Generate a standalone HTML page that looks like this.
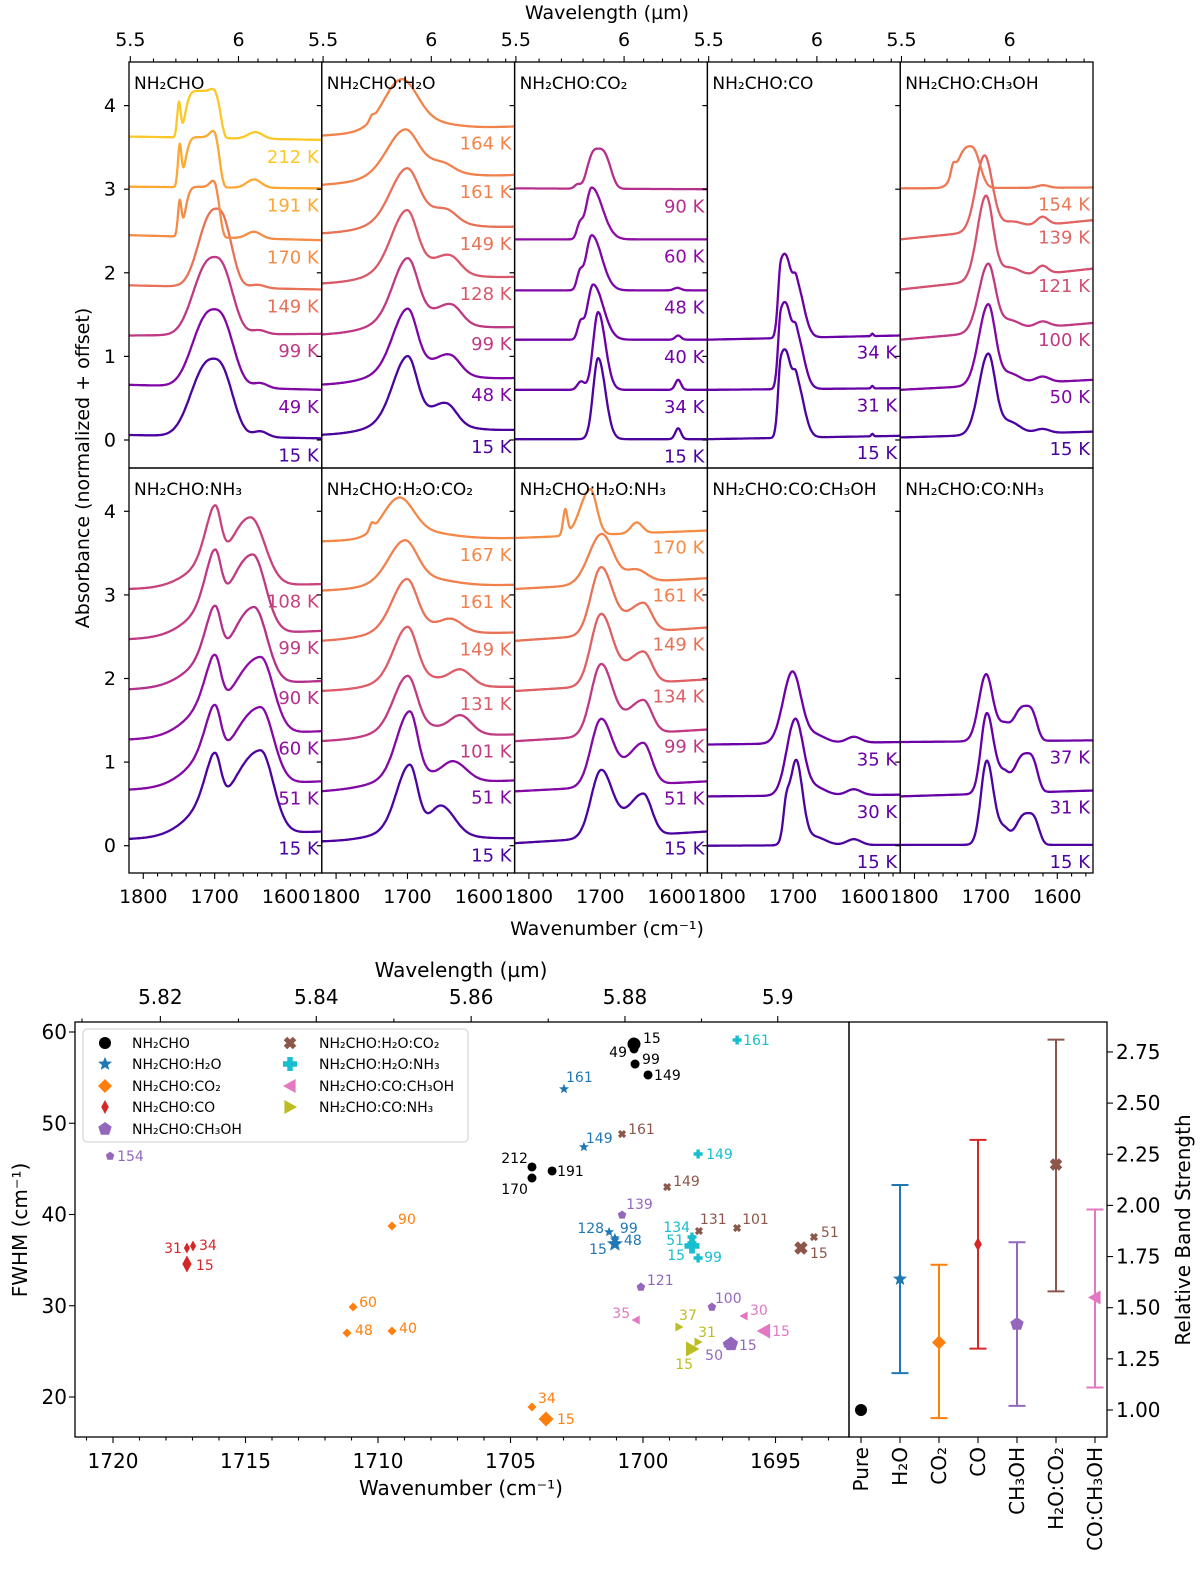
<!DOCTYPE html>
<html><head><meta charset="utf-8">
<style>
html,body{margin:0;padding:0;background:#fff;}
svg{display:block;font-family:"DejaVu Sans","Liberation Sans",sans-serif;}
</style></head>
<body>
<svg id="fig" width="1200" height="1570" viewBox="0 0 1200 1570" xmlns="http://www.w3.org/2000/svg">
<g id="topgrid"></g>
<g id="botchart"></g>
<g id="relchart"></g>
</svg>
<script>
// ===== Spectra data: per panel titles, temperatures, baselines [at 1820, at 1550], bands [center, height, sigmaHigh, sigmaLow, power]
const p1Title = "NH₂CHO";
const p1Temps = [15,49,99,149,170,191,212];
const p1Base = [[0.06,0.02],[0.66,0.60],[1.25,1.27],[1.85,1.80],[2.45,2.39],[3.03,3.01],[3.63,3.59]];
const p1Bands = [
 [[1701,0.93,30,24,2.5],[1636,0.07,10,10,2]],
 [[1700,0.93,29,24,2.5],[1636,0.06,10,10,2]],
 [[1700,0.93,28,23,2.5],[1638,0.05,10,10,2]],
 [[1697,0.94,24,19,2.5],[1640,0.04,10,10,2]],
 [[1716,0.6,24,22,6],[1700,0.1,6,4,2],[1749,0.42,2.5,2.5,2],[1645,0.08,10,10,2]],
 [[1716,0.6,24,22,6],[1700,0.1,6,4,2],[1749,0.5,2.5,2.5,2],[1645,0.1,10,10,2]],
 [[1716,0.56,24,23,6],[1700,0.04,6,4,2],[1750,0.42,2.5,2.5,2],[1643,0.08,10,10,2]]];
const p2Title = "NH₂CHO:H₂O";
const p2Temps = [15,48,99,128,149,161,164];
const p2Base = [[0.06,0.12],[0.66,0.74],[1.26,1.35],[1.87,1.95],[2.47,2.55],[3.05,3.17],[3.64,3.75]];
const p2Bands = [
 [[1700,0.72,20,13,2],[1690,0.2,45,45,2],[1645,0.22,18,14,2]],
 [[1700,0.68,20,13,2],[1690,0.2,45,45,2],[1640,0.2,18,14,2]],
 [[1700,0.68,20,14,2],[1690,0.2,45,45,2],[1638,0.2,18,14,2]],
 [[1701,0.65,21,14,2],[1690,0.2,45,45,2],[1640,0.18,18,14,2]],
 [[1701,0.55,22,16,2],[1690,0.2,45,45,2],[1645,0.12,18,14,2]],
 [[1704,0.45,24,18,2],[1690,0.17,45,45,2],[1650,0.08,18,14,2]],
 [[1709,0.52,24,22,2],[1690,0.12,45,45,2],[1750,0.05,3,3,2]]];
const p3Title = "NH₂CHO:CO₂";
const p3Temps = [15,34,40,48,60,90];
const p3Base = [[0.01,0.01],[0.6,0.6],[1.2,1.2],[1.79,1.79],[2.40,2.40],[3.01,3.0]];
const p3Bands = [
 [[1703,0.97,7,10,2],[1591,0.13,4,4,2]],
 [[1703,0.93,7,10,2],[1727,0.1,5,5,2],[1591,0.12,4,4,2]],
 [[1710,0.66,8,14,2],[1728,0.18,4,4,2],[1591,0.05,4,4,2]],
 [[1712,0.66,8,14,2],[1729,0.18,4,4,2],[1592,0.03,5,5,2]],
 [[1712,0.62,8,15,2],[1729,0.15,4,4,2]],
 [[1703,0.48,14,16,3],[1732,0.05,4,4,2]]];
const p4Title = "NH₂CHO:CO";
const p4Temps = [15,31,34];
const p4Base = [[0.01,0.05],[0.6,0.62],[1.2,1.25]];
const p4Bands = [
 [[1717,0.88,4,8,2],[1706,0.55,6,6,2],[1695,0.65,5,10,2],[1589,0.03,1.5,1.5,2]],
 [[1717,0.86,4,8,2],[1706,0.55,6,6,2],[1695,0.63,5,10,2],[1589,0.03,1.5,1.5,2]],
 [[1717,0.84,4,8,2],[1706,0.52,6,6,2],[1695,0.62,5,10,2],[1589,0.03,1.5,1.5,2]]];
const p5Title = "NH₂CHO:CH₃OH";
const p5Temps = [15,50,100,121,139,154];
const p5Base = [[0.03,0.10],[0.6,0.72],[1.2,1.40],[1.8,2.05],[2.40,2.63],[3.01,3.02]];
const p5Bands = [
 [[1697,0.95,13,10,2],[1668,0.15,15,15,2],[1621,0.05,10,10,2]],
 [[1697,0.95,13,10,2],[1668,0.13,15,15,2],[1621,0.07,10,10,2]],
 [[1697,0.8,13,10,2],[1668,0.12,15,15,2],[1621,0.07,10,10,2]],
 [[1700,1.0,12,10,2],[1668,0.12,15,15,2],[1621,0.1,8,8,2]],
 [[1702,0.9,12,11,2],[1665,0.08,15,15,2],[1621,0.1,8,8,2]],
 [[1722,0.5,18,13,2.5],[1746,0.12,3,3,2],[1620,0.03,8,8,2]]];
const p6Title = "NH₂CHO:NH₃";
const p6Temps = [15,51,60,90,99,108];
const p6Base = [[0.08,0.17],[0.67,0.77],[1.27,1.37],[1.87,1.97],[2.47,2.57],[3.07,3.13]];
const p6Bands = [
 [[1699,0.45,14,8,2],[1705,0.3,35,10,2],[1636,1.0,40,18,2]],
 [[1699,0.45,14,8,2],[1705,0.3,35,10,2],[1636,0.92,40,18,2]],
 [[1699,0.45,14,8,2],[1705,0.3,35,10,2],[1636,0.92,40,18,2]],
 [[1699,0.48,14,8,2],[1705,0.28,35,10,2],[1645,0.92,33,18,2]],
 [[1699,0.52,14,8,2],[1705,0.28,35,10,2],[1647,0.95,33,18,2]],
 [[1699,0.55,14,8,2],[1705,0.25,35,10,2],[1650,0.82,30,20,2]]];
const p7Title = "NH₂CHO:H₂O:CO₂";
const p7Temps = [15,51,101,131,149,161,167];
const p7Base = [[0.05,0.09],[0.65,0.78],[1.25,1.33],[1.85,1.9],[2.45,2.55],[3.05,3.12],[3.64,3.68]];
const p7Bands = [
 [[1697,0.75,18,11,2],[1690,0.15,45,45,2],[1652,0.3,15,18,2]],
 [[1697,0.75,18,11,2],[1690,0.15,45,45,2],[1635,0.2,15,18,2]],
 [[1700,0.6,19,13,2],[1690,0.15,45,45,2],[1625,0.2,15,15,2]],
 [[1700,0.6,19,13,2],[1690,0.15,45,45,2],[1625,0.17,15,15,2]],
 [[1701,0.55,20,14,2],[1690,0.15,45,45,2],[1638,0.12,15,15,2]],
 [[1704,0.45,22,17,2],[1690,0.13,45,45,2]],
 [[1712,0.42,22,20,2],[1690,0.1,45,45,2],[1750,0.08,3,3,2]]];
const p8Title = "NH₂CHO:H₂O:NH₃";
const p8Temps = [15,51,99,134,149,161,170];
const p8Base = [[0.03,0.17],[0.65,0.77],[1.25,1.39],[1.85,1.99],[2.45,2.61],[3.07,3.2],[3.68,3.77]];
const p8Bands = [
 [[1699,0.8,14,16,2],[1640,0.5,22,12,2]],
 [[1699,0.8,14,16,2],[1640,0.5,22,12,2]],
 [[1699,0.85,14,16,2],[1640,0.4,22,12,2]],
 [[1699,0.85,14,16,2],[1640,0.38,22,12,2]],
 [[1699,0.8,14,16,2],[1640,0.35,22,12,2]],
 [[1698,0.6,18,16,2],[1650,0.15,15,15,2]],
 [[1714,0.55,14,9,2],[1749,0.3,3,3,2],[1649,0.13,8,8,2]]];
const p9Title = "NH₂CHO:CO:CH₃OH";
const p9Temps = [15,30,35];
const p9Base = [[0.0,0.01],[0.59,0.61],[1.21,1.24]];
const p9Bands = [
 [[1696,1.0,9,9,2],[1710,0.3,4,4,2],[1670,0.1,15,15,2],[1615,0.07,10,10,2]],
 [[1697,0.9,12,11,2],[1670,0.1,15,15,2],[1615,0.07,10,10,2]],
 [[1701,0.85,13,12,2],[1670,0.1,15,15,2],[1615,0.07,10,10,2]]];
const p10Title = "NH₂CHO:CO:NH₃";
const p10Temps = [15,31,37];
const p10Base = [[0.01,0.01],[0.59,0.66],[1.24,1.26]];
const p10Bands = [
 [[1699,0.98,8,9,2],[1675,0.2,12,8,2],[1640,0.38,17,13,3]],
 [[1699,0.93,8,9,2],[1675,0.25,12,8,2],[1642,0.47,17,13,3]],
 [[1700,0.78,10,9,2],[1675,0.2,12,8,2],[1643,0.42,17,13,3]]];

// ===== Scatter data (FWHM vs peak position)
const seriesNames = ["NH₂CHO","NH₂CHO:H₂O","NH₂CHO:CO₂","NH₂CHO:CO","NH₂CHO:CH₃OH","NH₂CHO:H₂O:CO₂","NH₂CHO:H₂O:NH₃","NH₂CHO:CO:CH₃OH","NH₂CHO:CO:NH₃"];
const pureTemps = [15,49,99,149,170,191,212];
const pureWn = [1700.34,1700.34,1700.30,1699.81,1704.19,1703.43,1704.19];
const pureFwhm = [58.68,58.14,56.49,55.29,44.0,44.77,45.21];
const h2oTemps = [15,48,99,128,149,161];
const h2oWn = [1701.06,1701.06,1701.06,1701.28,1702.23,1702.98];
const h2oFwhm = [36.77,37.2,37.42,38.08,47.40,53.75];
const co2Temps = [15,34,40,48,60,90];
const co2Wn = [1703.66,1704.19,1709.47,1711.17,1710.94,1709.47];
const co2Fwhm = [17.59,18.90,27.23,27.01,29.86,38.74];
const coTemps = [15,31,34];
const coWn = [1717.21,1717.21,1716.98];
const coFwhm = [34.58,36.33,36.55];
const meohTemps = [15,50,100,121,139,154];
const meohWn = [1696.68,1696.83,1697.40,1700.08,1700.79,1720.11];
const meohFwhm = [25.81,25.81,29.86,32.05,39.95,46.4];
const h2oco2Temps = [15,51,101,131,149,161];
const h2oco2Wn = [1694.04,1693.55,1696.45,1697.89,1699.09,1700.79];
const h2oco2Fwhm = [36.33,37.53,38.52,38.19,43.01,48.82];
const h2onh3Temps = [15,51,99,134,149,161];
const h2onh3Wn = [1698.15,1698.15,1697.92,1698.15,1697.92,1696.45];
const h2onh3Fwhm = [36.55,36.88,35.23,37.53,46.63,59.12];
const comeohTemps = [15,30,35];
const comeohWn = [1695.43,1696.19,1700.26];
const comeohFwhm = [27.23,28.88,28.44];
const conh3Temps = [15,31,37];
const conh3Wn = [1698.15,1697.92,1698.64];
const conh3Fwhm = [25.26,26.03,27.67];

// ===== Relative band strength data
const relCats = ["Pure","H₂O","CO₂","CO","CH₃OH","H₂O:CO₂","CO:CH₃OH"];
const relVals = [1.00,1.64,1.33,1.81,1.42,2.20,1.55];
const relLow = [1.00,1.18,0.96,1.30,1.02,1.58,1.11];
const relHigh = [1.00,2.10,1.71,2.32,1.82,2.81,1.98];
const relTicks = [1.00,1.25,1.50,1.75,2.00,2.25,2.50,2.75];

// ===== tick arrays
const specWnTicks = [1800,1700,1600];
const specWlTicks = [5.5,6];
const specYTicks = [0,1,2,3,4];
const fwhmXTicks = [1720,1715,1710,1705,1700,1695];
const fwhmYTicks = [20,30,40,50,60];
const fwhmWlTicks = [5.82,5.84,5.86,5.88,5.9];

// ---------- helpers (presentation) ----------
const NS = "http://www.w3.org/2000/svg";
function mk(tag, attrs, parent){const e=document.createElementNS(NS,tag);for(const k in attrs)e.setAttribute(k,attrs[k]);if(parent)parent.appendChild(e);return e;}
function txt(parent,x,y,s,size,color,anchor,extra){const t=mk('text',{x:x,y:y,'font-size':size,fill:color||'#000','text-anchor':anchor||'start'},parent);if(extra)for(const k in extra)t.setAttribute(k,extra[k]);t.textContent=s;return t;}
const plasmaStops=['#0d0887','#41049d','#6a00a8','#8f0da4','#b12a90','#cc4778','#e16462','#f2844b','#fca636','#fcce25','#f0f921'];
function hx(c){return [parseInt(c.substr(1,2),16),parseInt(c.substr(3,2),16),parseInt(c.substr(5,2),16)];}
function tempColor(T){let t=Math.min(0.07+T/260,1);const f=t*10,i=Math.min(Math.floor(f),9),r=f-i;const a=hx(plasmaStops[i]),b=hx(plasmaStops[i+1]);return 'rgb('+a.map((v,k)=>Math.round(v+(b[k]-v)*r)).join(',')+')';}
function band(wn,pk){const c=pk[0],h=pk[1],sH=pk[2],sL=pk[3],p=pk[4]||2;const d=wn-c;const s=d>0?sH:sL;return h*Math.exp(-0.5*Math.pow(Math.abs(d/s),p));}
function specVal(wn,base,bands){let v=base[0]+(base[1]-base[0])*(1820-wn)/270;for(const b of bands)v+=band(wn,b);return v;}

// ---------- Spectra grid ----------
const topG=document.getElementById('topgrid');
const colL=[129,321.8,514.6,707.4,900.2], colW=192.8;
const rowTop=[62,468], rowZero=[440,845.7], rowBot=[468,873], yScale=83.6;
const WN0=1820, WN1=1550;
function sx(L,wn){return L+(WN0-wn)*colW/(WN0-WN1);}
const panels=[
 [p1Title,p1Temps,p1Base,p1Bands],[p2Title,p2Temps,p2Base,p2Bands],[p3Title,p3Temps,p3Base,p3Bands],[p4Title,p4Temps,p4Base,p4Bands],[p5Title,p5Temps,p5Base,p5Bands],
 [p6Title,p6Temps,p6Base,p6Bands],[p7Title,p7Temps,p7Base,p7Bands],[p8Title,p8Temps,p8Base,p8Bands],[p9Title,p9Temps,p9Base,p9Bands],[p10Title,p10Temps,p10Base,p10Bands]];
panels.forEach((pd,idx)=>{
  const r=Math.floor(idx/5), c=idx%5, L=colL[c];
  const y0=rowZero[r];
  const sy=v=>y0-v*yScale;
  const g=mk('g',{},topG);
  
  
  const clip=mk('clipPath',{id:'cp'+idx},g);
  mk('rect',{x:L,y:rowTop[r],width:colW,height:rowBot[r]-rowTop[r]},clip);
  const cg=mk('g',{'clip-path':'url(#cp'+idx+')'},g);
  pd[1].forEach((T,k)=>{
    let d='';
    for(let wn=WN0;wn>=WN1;wn-=1){const v=specVal(wn,pd[2][k],pd[3][k]);d+=(wn===WN0?'M':'L')+sx(L,wn).toFixed(1)+','+sy(v).toFixed(1);}
    const p=mk('path',{d:d,fill:'none',stroke:tempColor(T),'stroke-width':2.3,'stroke-linejoin':'round'},cg);
    
    
    const vr=specVal(WN1,pd[2][k],pd[3][k])-0.2;
    const lt=txt(g,L+colW-3,sy(vr)+6.5,T+' K',18,tempColor(T),'end');
    
    
  });
  mk('rect',{x:L,y:rowTop[r],width:colW,height:rowBot[r]-rowTop[r],fill:'none',stroke:'#000','stroke-width':1.3},g);
  const tt=txt(g,L+5,rowTop[r]+27,pd[0],17,'#000');
  
  
  specYTicks.forEach(v=>{mk('line',{x1:L-5,x2:L,y1:sy(v),y2:sy(v),stroke:'#000','stroke-width':1.2},g);
    if(c===0){const yl=txt(g,116,sy(v)+6.5,String(v),19,'#000','end');}});
  if(r===1){
    for(let w=1800;w>=1560;w-=20){const x=sx(L,w);const maj=specWnTicks.includes(w);mk('line',{x1:x,x2:x,y1:873,y2:873+(maj?6:3.5),stroke:'#000','stroke-width':1.1},g);}
    specWnTicks.forEach(w=>{const xl=txt(g,sx(L,w),903,String(w),19,'#000','middle');});
  } else {
    for(let i=0;i<10;i++){const wl=5.5+i*0.1;const w=1e4/wl;const x=sx(L,w);const maj=(i===0||i===5);mk('line',{x1:x,x2:x,y1:62,y2:62-(maj?6:3.5),stroke:'#000','stroke-width':1.1},g);}
    specWlTicks.forEach(wl=>{const wt=txt(g,sx(L,1e4/wl),46,String(wl),19,'#000','middle');});
  }
});
let t1=txt(topG,607,19,'Wavelength (µm)',19,'#000','middle');
let t2=txt(topG,607,935,'Wavenumber (cm⁻¹)',19,'#000','middle');
let t3=txt(topG,0,0,'Absorbance (normalized + offset)',19,'#000','middle',{transform:'translate(89,468) rotate(-90)'});

// ---------- marker drawing ----------
function marker(parent,type,cx,cy,s,color){
  const r=s/2;let pts=[];
  if(type==='o'){return mk('circle',{cx:cx,cy:cy,r:r,fill:color},parent);}
  if(type==='*'){for(let i=0;i<10;i++){const a=-Math.PI/2+i*Math.PI/5;const rr=i%2?r*0.45:r*1.05;pts.push([cx+rr*Math.cos(a),cy+rr*Math.sin(a)]);}}
  if(type==='D'){pts=[[cx,cy-r],[cx+r,cy],[cx,cy+r],[cx-r,cy]];}
  if(type==='d'){pts=[[cx,cy-r],[cx+r*0.55,cy],[cx,cy+r],[cx-r*0.55,cy]];}
  if(type==='p'){for(let i=0;i<5;i++){const a=-Math.PI/2+i*2*Math.PI/5;pts.push([cx+r*Math.cos(a),cy+r*Math.sin(a)]);}}
  if(type==='X'){const a=r*0.55,b=r;pts=[[-b,-b+a],[-b+a,-b],[0,-a],[b-a,-b],[b,-b+a],[a,0],[b,b-a],[b-a,b],[0,a],[-b+a,b],[-b,b-a],[-a,0]].map(p=>[cx+p[0]*0.9,cy+p[1]*0.9]);}
  if(type==='P'){const a=r*0.38;pts=[[-a,-r],[a,-r],[a,-a],[r,-a],[r,a],[a,a],[a,r],[-a,r],[-a,a],[-r,a],[-r,-a],[-a,-a]].map(p=>[cx+p[0],cy+p[1]]);}
  if(type==='<'){pts=[[cx-r,cy],[cx+r*0.8,cy-r],[cx+r*0.8,cy+r]];}
  if(type==='>'){pts=[[cx+r,cy],[cx-r*0.8,cy-r],[cx-r*0.8,cy+r]];}
  return mk('polygon',{points:pts.map(p=>p[0].toFixed(1)+','+p[1].toFixed(1)).join(' '),fill:color},parent);
}

// ---------- FWHM scatter ----------
const botG=document.getElementById('botchart');
const AX={l:75,r:849,t:1022,b:1437};
const fx=w=>643+(1700-w)*26.5;
const fy=f=>1397-(f-20)*9.125;
const sColors=['#000000','#1f77b4','#ff7f0e','#d62728','#9467bd','#8c564b','#17becf','#e377c2','#bcbd22'];
const sMarkers=['o','*','D','d','p','X','P','<','>'];
const sTemps=[pureTemps,h2oTemps,co2Temps,coTemps,meohTemps,h2oco2Temps,h2onh3Temps,comeohTemps,conh3Temps];
const sWn=[pureWn,h2oWn,co2Wn,coWn,meohWn,h2oco2Wn,h2onh3Wn,comeohWn,conh3Wn];
const sFw=[pureFwhm,h2oFwhm,co2Fwhm,coFwhm,meohFwhm,h2oco2Fwhm,h2onh3Fwhm,comeohFwhm,conh3Fwhm];
const lblOff=[
 [[9,-1,0],[-7,8,1],[7,0,0],[6,5,0],[-4,16,1],[5,5,0],[-4,-4,1]],
 [[-8,10,1],[9,5,0],[5,-5,0],[-5,1,1],[2,-4,0],[2,-7,0]],
 [[11,5,0],[6,-4,0],[7,2,0],[8,2,0],[6,0,0],[6,-2,0]],
 [[9,6,0],[-5,5,1],[6,4,0]],
 [[8,6,0],[-4,16,1],[3,-4,0],[6,-2,0],[4,-6,0],[7,5,0]],
 [[9,10,0],[7,0,0],[5,-4,0],[1,-7,0],[6,-1,0],[6,0,0]],
 [[-7,14,1],[-8,2,1],[6,4,0],[-2,-5,1],[8,5,0],[6,5,0]],
 [[8,5,0],[6,-1,0],[-6,-2,1]],
 [[1,20,1],[0,-5,0],[0,-7,0]]];
const bigSize=[13,16,15,17,15,15,15,15,15], smallSize=[9,10,9,11,9,9,9,9,9];
sTemps.forEach((temps,si)=>{
  const g=mk('g',{},botG);
  
  
  temps.forEach((T,k)=>{
    const x=fx(sWn[si][k]),y=fy(sFw[si][k]);
    const m=marker(g,sMarkers[si],x,y,T===15?bigSize[si]:smallSize[si],sColors[si]);
    
    
    const o=lblOff[si][k];
    const lt=txt(g,x+o[0],y+o[1],String(T),14,sColors[si],o[2]?'end':'start');
    
    
  });
});
mk('rect',{x:AX.l,y:AX.t,width:AX.r-AX.l,height:AX.b-AX.t,fill:'none',stroke:'#000','stroke-width':1.3},botG);
for(let w=1721;w>=1693;w--){const x=fx(w);if(x<AX.l||x>AX.r)continue;const maj=fwhmXTicks.includes(w);mk('line',{x1:x,x2:x,y1:AX.b,y2:AX.b+(maj?6:3.5),stroke:'#000','stroke-width':1.1},botG);}
fwhmXTicks.forEach(w=>{const l=txt(botG,fx(w),1468,String(w),20,'#000','middle');});
fwhmYTicks.forEach(f=>{mk('line',{x1:AX.l-6,x2:AX.l,y1:fy(f),y2:fy(f),stroke:'#000','stroke-width':1.1},botG);const l=txt(botG,67,fy(f)+7,String(f),20,'#000','end');});
for(let i=0;i<=10;i++){const wl=5.81+i*0.01;const x=fx(1e4/wl);if(x<AX.l||x>AX.r)continue;const maj=i%2===1;mk('line',{x1:x,x2:x,y1:AX.t,y2:AX.t-(maj?6:3.5),stroke:'#000','stroke-width':1.1},botG);}
fwhmWlTicks.forEach(wl=>{const l=txt(botG,fx(1e4/wl),1004,String(wl),20,'#000','middle');});
let b1=txt(botG,461,977,'Wavelength (µm)',20,'#000','middle');
let b2=txt(botG,461,1495,'Wavenumber (cm⁻¹)',20,'#000','middle');
let b3=txt(botG,0,0,'FWHM (cm⁻¹)',20,'#000','middle',{transform:'translate(27,1230) rotate(-90)'});
const lg=mk('g',{},botG);


mk('rect',{x:83,y:1029,width:385,height:113,rx:4,fill:'#fff','fill-opacity':0.85,stroke:'#ccc','stroke-width':1},lg);
const legRows=[1043,1064,1086,1107,1129];
seriesNames.forEach((n,i)=>{
  const col=i<5?0:1,row=i<5?i:i-5;
  const mx=col?290:105, tx=col?319:132, y=legRows[row];
  const e=mk('g',{},lg);
  
  
  marker(e,sMarkers[i],mx,y,sMarkers[i]==='o'?12:14,sColors[i]);
  txt(e,tx,y+5,n,14,'#000');
});

// ---------- Relative band strength ----------
const relG=document.getElementById('relchart');
const RA={l:849,r:1107,t:1022,b:1437};
const rx=i=>861+i*39;
const ry=v=>1410-(v-1)*204.6;
relCats.forEach((c,i)=>{
  const g=mk('g',{},relG);
  
  
  const x=rx(i),col=sColors[i===6?7:i];
  if(relHigh[i]!==relLow[i]){
    mk('line',{x1:x,x2:x,y1:ry(relLow[i]),y2:ry(relHigh[i]),stroke:col,'stroke-width':2},g);
    mk('line',{x1:x-8.5,x2:x+8.5,y1:ry(relLow[i]),y2:ry(relLow[i]),stroke:col,'stroke-width':2},g);
    mk('line',{x1:x-8.5,x2:x+8.5,y1:ry(relHigh[i]),y2:ry(relHigh[i]),stroke:col,'stroke-width':2},g);
  }
  marker(g,sMarkers[i===6?7:i],x,ry(relVals[i]),i===0?12:14,col);
  mk('line',{x1:x,x2:x,y1:RA.b,y2:RA.b+6,stroke:'#000','stroke-width':1.1},relG);
  const l=txt(relG,0,0,c,20,'#000','end',{transform:'translate('+(x+7)+',1447) rotate(-90)'});
  
  
});
mk('rect',{x:RA.l,y:RA.t,width:RA.r-RA.l,height:RA.b-RA.t,fill:'none',stroke:'#000','stroke-width':1.3},relG);
relTicks.forEach(v=>{mk('line',{x1:RA.r,x2:RA.r+6,y1:ry(v),y2:ry(v),stroke:'#000','stroke-width':1.1},relG);const l=txt(relG,RA.r+9,ry(v)+7,v.toFixed(2),20,'#000','start');});
let r1=txt(relG,0,0,'Relative Band Strength',20,'#000','middle',{transform:'translate(1190,1230) rotate(-90)'});
</script>
</body></html>
